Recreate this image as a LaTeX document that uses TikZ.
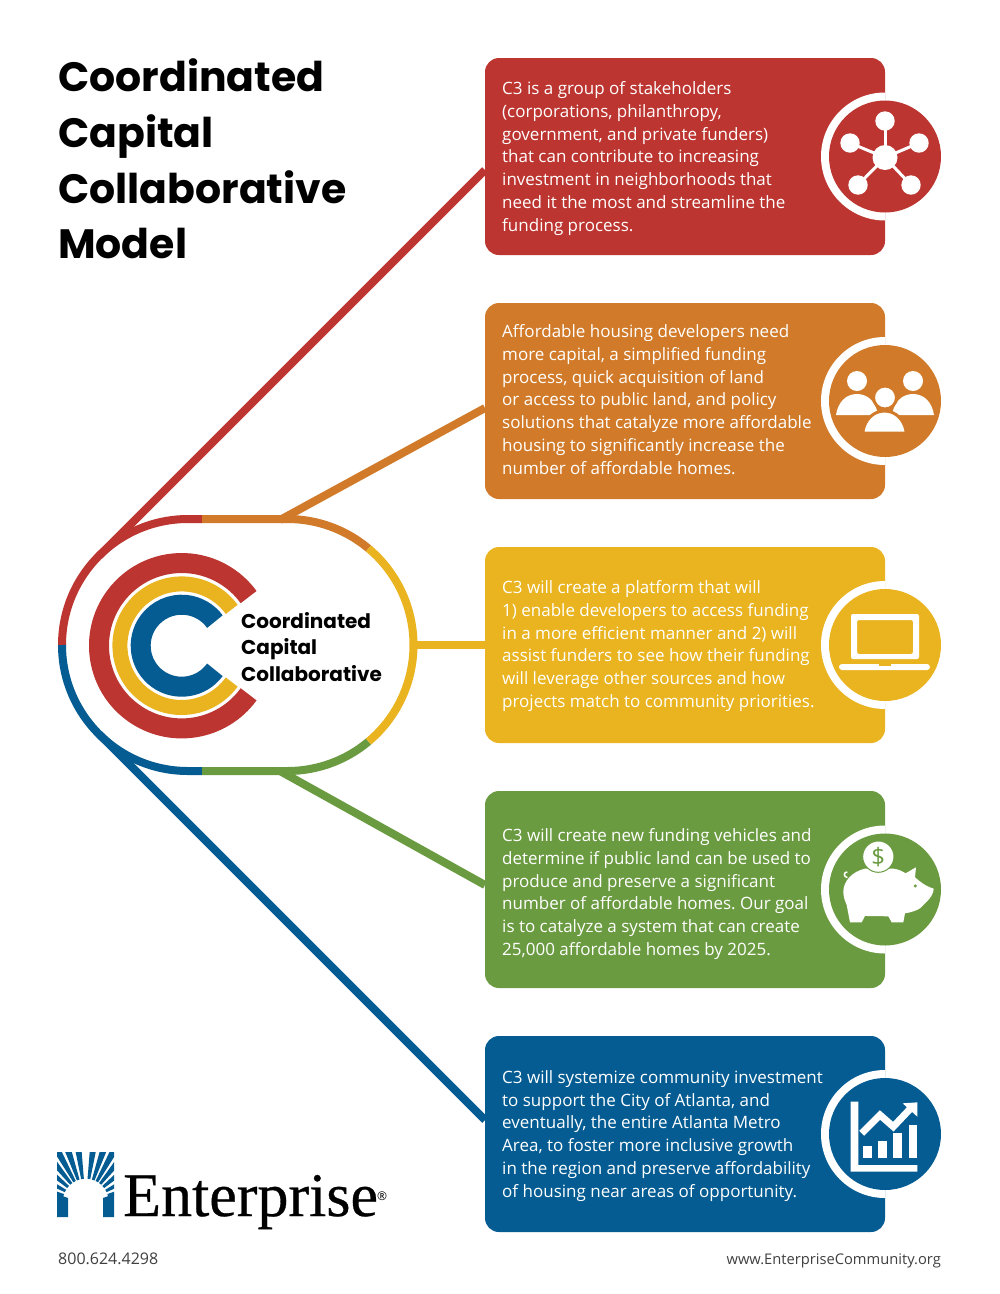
\documentclass[tikz,border=0pt]{standalone}
\usepackage{fontspec}
\setmainfont{Poppins}
\newfontfamily\bodyf{Open Sans}
\newfontfamily\logof[FakeBold=0.5]{Liberation Serif}
\usetikzlibrary{calc}
\definecolor{cred}{HTML}{BC3530}
\definecolor{corange}{HTML}{D17B2A}
\definecolor{cyellow}{HTML}{E9B420}
\definecolor{cgreen}{HTML}{6A9B41}
\definecolor{cblue}{HTML}{045C92}
\frenchspacing
\tikzset{
 x=1pt,y=-1pt,
 conn/.style={line width=8pt,line cap=butt},
 cardbox/.style={rounded corners=14pt},
 cardtext/.style={anchor=north west,inner sep=0pt,text=white,align=left,font=\bodyf\fontsize{17}{22.9}\selectfont\frenchspacing},
 titletext/.style={anchor=base west,inner sep=0pt,font=\bfseries\fontsize{41}{56}\selectfont},
 logotext/.style={anchor=base west,inner sep=0pt,font=\bfseries\fontsize{20}{26}\selectfont},
 foot/.style={inner sep=0pt,text=black!75},
}
\begin{document}
\begin{tikzpicture}
\useasboundingbox (0,0) rectangle (1000,1294);
\fill[white] (0,0) rectangle (1000,1294);
% connectors
\coordinate (lt) at (99,556);\coordinate (lb) at (99,734);
\coordinate (rt) at (485,170);\coordinate (rb) at (485,1120);
\draw[conn,cred] (rt) -- (lt);
\draw[conn,cblue] (rb) -- (lb);
\draw[conn,corange] (485,408) -- (280,520);
\draw[conn,cgreen] (485,885) -- (280,771);
\draw[conn,cyellow] (413,645) -- (485,645);
% capsule
\draw[conn,cred] (62,645) arc[start angle=180,end angle=270,radius=126] -- (202,519);
\draw[conn,cblue] (62,645) arc[start angle=180,end angle=90,radius=126] -- (202,771);
\draw[conn,corange] (202,519) -- (287.5,519) arc[start angle=-90,end angle=-50,radius=126];
\draw[conn,cgreen] (202,771) -- (287.5,771) arc[start angle=90,end angle=50,radius=126];
\draw[conn,cyellow] ({287.5+126*cos(50)},{645-126*sin(50)}) arc[start angle=-50,end angle=50,radius=126];
% logo C
\foreach \r/\w/\c in {82.7/20/cred,61.8/15/cyellow,41/20/cblue}{
 \draw[line width=\w pt,\c] ({181.7+\r*cos(36)},{645.7+\r*sin(36)}) arc[start angle=36,end angle=324,radius=\r];
}
\node[logotext] (l1) at (241,628) {Coordinated};
\node[logotext] (l2) at (241,654) {Capital};
\node[logotext] (l3) at (241,681) {Collaborative};
% title
\node[titletext] (t1) at (58,91) {Coordinated};
\node[titletext] (t2) at (58,147) {Capital};
\node[titletext] (t3) at (58,203) {Collaborative};
\node[titletext] (t4) at (58,258) {Model};
% cards
\foreach \yt/\yb/\c in {58/255/cred,303/499/corange,547/743/cyellow,791/988/cgreen,1036/1232/cblue}{
 \fill[\c,cardbox] (485,\yt) rectangle (885,\yb);
 \pgfmathsetmacro{\cy}{(\yt+\yb)/2}
 \begin{scope}
 \clip (800,\yt) rectangle (885,\yb);
 \fill[white] (885,\cy) circle[radius=64];
 \end{scope}
 \fill[\c] (885,\cy) circle[radius=56];
}
\node[cardtext] (a) at (502,81) {C3 is a group of stakeholders\\(corporations, philanthropy,\\government, and private funders)\\that can contribute to increasing\\investment in neighborhoods that\\need it the most and streamline the\\funding process.};
\node[cardtext] (b) at (502,324) {Affordable housing developers need\\more capital, a simplified funding\\process, quick acquisition of land\\or access to public land, and policy\\solutions that catalyze more affordable\\housing to significantly increase the\\number of affordable homes.};
\node[cardtext] (c) at (502,580) {C3 will create a platform that will\\1) enable developers to access funding\\in a more efficient manner and 2) will\\assist funders to see how their funding\\will leverage other sources and how\\projects match to community priorities.};
\node[cardtext] (d) at (502,828) {C3 will create new funding vehicles and\\determine if public land can be used to\\produce and preserve a significant\\number of affordable homes. Our goal\\is to catalyze a system that can create\\25,000 affordable homes by 2025.};
\node[cardtext] (e) at (502,1070) {C3 will systemize community investment\\to support the City of Atlanta, and\\eventually, the entire Atlanta Metro\\Area, to foster more inclusive growth\\in the region and preserve affordability\\of housing near areas of opportunity.};
% network icon
\foreach \p in {(885,121),(850,143),(919,143),(858,185),(911,185)}{
 \draw[white,line width=3pt] (885,157.5) -- \p;
 \fill[white] \p circle[radius=9.7];
}
\fill[white] (885,157.5) circle[radius=12.5];
% people icon
\fill[white] (857,381) circle[radius=10];
\fill[white] (913,381) circle[radius=10];
\fill[white] (836,415) .. controls (838,402) and (846,394) .. (857,394) .. controls (868,394) and (876,402) .. (878,415) -- cycle;
\fill[white] (892,415) .. controls (894,402) and (902,394) .. (913,394) .. controls (924,394) and (932,402) .. (934,415) -- cycle;
\fill[white,draw=corange,line width=3pt] (885,397.5) circle[radius=11.5];
\fill[white,draw=corange,line width=3pt] (863,433) -- (863,431) .. controls (865,420) and (873,411) .. (884.5,411) .. controls (896,411) and (904,420) .. (906,431) -- (906,433) -- cycle;
\fill[corange] (855,431.5) rectangle (915,436);
% laptop icon
\fill[white,rounded corners=2pt,even odd rule] (851,614) rectangle (919,659) (857,620) rectangle (913,654);
\fill[white,rounded corners=3pt] (839,664) rectangle (930,670);
\fill[cyellow] (879,664) rectangle (891,666);
% piggy icon
\begin{scope}[shift={(810,580)},x=0.3333pt,y=-0.3333pt]
\draw[white,line width=1.5pt] (112,893) .. controls (100,890) and (100,876) .. (112,876);
\fill[white] (100,935) .. controls (100,905) and (125,875) .. (165,866) -- (250,866) .. controls (265,868) and (278,874) .. (287,880) -- (318,862) -- (315,892) .. controls (330,905) and (345,918) .. (371,926) .. controls (370,950) and (350,965) .. (330,985) .. controls (320,992) and (300,998) .. (285,1000) -- (280,1027) -- (245,1027) -- (235,1009) -- (165,1008) -- (155,1027) -- (120,1027) -- (110,975) .. controls (104,960) and (100,950) .. (100,935) -- cycle;
\fill[cgreen] (316,918) circle[radius=5];
\fill[white,draw=cgreen,line width=1pt] (205,830) circle[radius=47];
\node[inner sep=0pt,text=cgreen,font=\bodyf\fontsize{24}{24}\selectfont] (dollar) at (205,832) {\$};
\end{scope}
% chart icon
\begin{scope}[shift={(810,1070)},x=0.3333pt,y=-0.3333pt]
\fill[white] (122,95) -- (145,95) -- (145,285) -- (322,285) -- (322,305) -- (122,305) -- cycle;
\foreach \xa/\xb/\ya in {160/187/227,205/232/213,250/277/190,296/322/165}{\fill[white] (\xa,\ya) rectangle (\xb,265);}
\draw[white,line width=7pt,line join=miter] (155,190) -- (210,135) -- (250,170) -- (302,115);
\fill[white] (278,100) -- (322,97) -- (322,140) -- cycle;
\end{scope}
% enterprise logo
\begin{scope}
\clip (57,1152) rectangle (114,1205);
\foreach \a in {8,19,29,39,50,62,74}{
 \foreach \s in {-1,1}{
 \fill[cblue] ({85.7+\s*23*sin(\a-3.4)},{1201.7-23*cos(\a-3.4)}) -- ({85.7+\s*120*sin(\a-3.4)},{1201.7-120*cos(\a-3.4)}) -- ({85.7+\s*120*sin(\a+3.4)},{1201.7-120*cos(\a+3.4)}) -- ({85.7+\s*23*sin(\a+3.4)},{1201.7-23*cos(\a+3.4)}) -- cycle;
 }
}
\end{scope}
\fill[cblue] (57,1194) -- (68,1198) -- (68,1217) -- (57,1217) -- cycle;
\fill[cblue] (114,1194) -- (103,1198) -- (103,1217) -- (114,1217) -- cycle;
\node[anchor=base west,inner sep=0pt,font=\logof\fontsize{62}{62}\selectfont] (ent) at (123,1216) {Enterprise};
\node[anchor=center,inner sep=0pt,font=\bodyf\fontsize{12}{12}\selectfont] (reg) at (382,1196) {®};
\node[foot,anchor=base west,font=\bodyf\fontsize{16}{18}\selectfont] (ph) at (58,1264.5) {800.624.4298};
\node[foot,anchor=base east,font=\bodyf\fontsize{14.7}{18}\selectfont] (web) at (941,1264.5) {www.EnterpriseCommunity.org};
\end{tikzpicture}
\end{document}
